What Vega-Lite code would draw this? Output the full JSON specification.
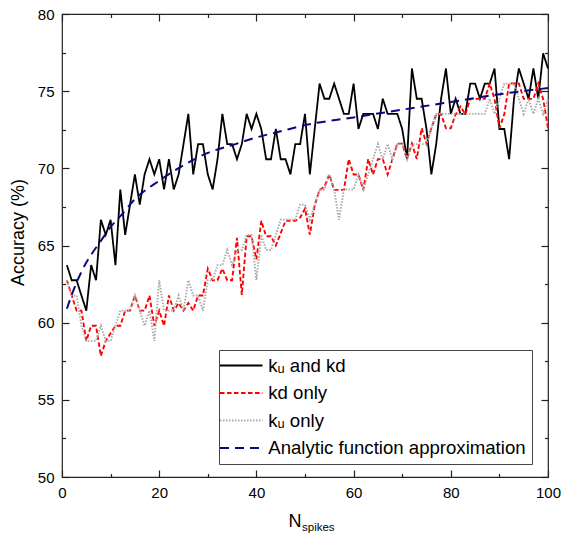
{
  "$schema": "https://vega.github.io/schema/vega-lite/v6.json",
  "width": 486,
  "height": 463,
  "autosize": {"type": "none"},
  "padding": {"left": 62, "top": 14, "right": 15, "bottom": 57},
  "background": "white",
  "datasets": {
    "main": [
      {"N":1,"both":63.73,"kd":62.75,"ku":62.75},
      {"N":2,"both":62.75,"kd":61.76,"ku":61.76},
      {"N":3,"both":62.75,"kd":60.78,"ku":61.76},
      {"N":4,"both":61.76,"kd":60.78,"ku":59.80},
      {"N":5,"both":60.78,"kd":58.82,"ku":58.82},
      {"N":6,"both":63.73,"kd":59.80,"ku":58.82},
      {"N":7,"both":62.75,"kd":59.80,"ku":58.82},
      {"N":8,"both":66.67,"kd":57.84,"ku":59.80},
      {"N":9,"both":65.69,"kd":58.82,"ku":58.82},
      {"N":10,"both":66.67,"kd":59.31,"ku":58.82},
      {"N":11,"both":63.73,"kd":59.80,"ku":59.80},
      {"N":12,"both":68.63,"kd":59.80,"ku":60.78},
      {"N":13,"both":65.69,"kd":60.78,"ku":60.78},
      {"N":14,"both":67.65,"kd":60.78,"ku":60.78},
      {"N":15,"both":69.61,"kd":61.76,"ku":61.76},
      {"N":16,"both":67.65,"kd":60.78,"ku":60.78},
      {"N":17,"both":69.61,"kd":60.78,"ku":59.80},
      {"N":18,"both":70.59,"kd":61.76,"ku":60.78},
      {"N":19,"both":69.61,"kd":59.80,"ku":58.82},
      {"N":20,"both":70.59,"kd":60.78,"ku":62.75},
      {"N":21,"both":68.63,"kd":59.80,"ku":60.78},
      {"N":22,"both":70.59,"kd":61.76,"ku":60.78},
      {"N":23,"both":68.63,"kd":60.78,"ku":60.78},
      {"N":24,"both":69.61,"kd":61.27,"ku":61.76},
      {"N":25,"both":71.57,"kd":60.78,"ku":60.78},
      {"N":26,"both":73.53,"kd":61.27,"ku":62.75},
      {"N":27,"both":69.61,"kd":60.78,"ku":61.76},
      {"N":28,"both":71.57,"kd":61.76,"ku":61.76},
      {"N":29,"both":71.57,"kd":61.76,"ku":60.78},
      {"N":30,"both":69.61,"kd":63.50,"ku":62.75},
      {"N":31,"both":68.63,"kd":62.75,"ku":62.75},
      {"N":32,"both":70.59,"kd":62.75,"ku":63.73},
      {"N":33,"both":73.53,"kd":63.50,"ku":63.73},
      {"N":34,"both":71.57,"kd":62.75,"ku":64.71},
      {"N":35,"both":71.57,"kd":62.75,"ku":63.73},
      {"N":36,"both":70.59,"kd":65.50,"ku":64.71},
      {"N":37,"both":71.57,"kd":61.80,"ku":64.71},
      {"N":38,"both":73.53,"kd":65.60,"ku":65.69},
      {"N":39,"both":72.55,"kd":65.60,"ku":65.69},
      {"N":40,"both":73.53,"kd":64.10,"ku":62.75},
      {"N":41,"both":72.55,"kd":66.60,"ku":65.69},
      {"N":42,"both":70.59,"kd":65.60,"ku":64.71},
      {"N":43,"both":70.59,"kd":65.60,"ku":64.71},
      {"N":44,"both":72.55,"kd":65.00,"ku":65.69},
      {"N":45,"both":70.59,"kd":65.80,"ku":66.67},
      {"N":46,"both":70.59,"kd":66.60,"ku":66.67},
      {"N":47,"both":69.61,"kd":66.60,"ku":66.67},
      {"N":48,"both":71.57,"kd":66.60,"ku":66.67},
      {"N":49,"both":71.57,"kd":66.80,"ku":67.65},
      {"N":50,"both":73.53,"kd":67.40,"ku":67.65},
      {"N":51,"both":69.61,"kd":65.70,"ku":66.67},
      {"N":52,"both":72.55,"kd":67.60,"ku":67.65},
      {"N":53,"both":75.49,"kd":68.60,"ku":68.63},
      {"N":54,"both":74.51,"kd":68.80,"ku":68.63},
      {"N":55,"both":74.51,"kd":69.60,"ku":69.61},
      {"N":56,"both":75.49,"kd":68.60,"ku":68.63},
      {"N":57,"both":74.51,"kd":68.60,"ku":66.67},
      {"N":58,"both":73.53,"kd":68.60,"ku":68.63},
      {"N":59,"both":73.53,"kd":70.60,"ku":68.63},
      {"N":60,"both":75.49,"kd":69.60,"ku":68.63},
      {"N":61,"both":72.55,"kd":69.60,"ku":69.61},
      {"N":62,"both":73.53,"kd":68.60,"ku":68.63},
      {"N":63,"both":73.53,"kd":70.60,"ku":69.61},
      {"N":64,"both":73.53,"kd":69.60,"ku":70.59},
      {"N":65,"both":72.55,"kd":70.60,"ku":71.57},
      {"N":66,"both":74.51,"kd":70.60,"ku":70.59},
      {"N":67,"both":73.53,"kd":69.60,"ku":71.57},
      {"N":68,"both":73.53,"kd":70.60,"ku":70.59},
      {"N":69,"both":73.53,"kd":71.60,"ku":71.57},
      {"N":70,"both":72.55,"kd":71.60,"ku":71.57},
      {"N":71,"both":70.59,"kd":70.60,"ku":70.59},
      {"N":72,"both":76.47,"kd":71.60,"ku":71.57},
      {"N":73,"both":74.51,"kd":70.60,"ku":71.57},
      {"N":74,"both":74.51,"kd":72.60,"ku":71.57},
      {"N":75,"both":72.55,"kd":71.60,"ku":71.57},
      {"N":76,"both":69.61,"kd":72.60,"ku":72.55},
      {"N":77,"both":71.57,"kd":73.50,"ku":73.53},
      {"N":78,"both":74.51,"kd":73.50,"ku":73.53},
      {"N":79,"both":76.47,"kd":72.60,"ku":73.53},
      {"N":80,"both":73.53,"kd":72.60,"ku":73.53},
      {"N":81,"both":74.51,"kd":73.50,"ku":73.53},
      {"N":82,"both":73.53,"kd":74.00,"ku":73.53},
      {"N":83,"both":73.53,"kd":73.50,"ku":73.53},
      {"N":84,"both":75.49,"kd":74.50,"ku":73.53},
      {"N":85,"both":75.49,"kd":74.50,"ku":73.53},
      {"N":86,"both":74.51,"kd":74.50,"ku":73.53},
      {"N":87,"both":75.49,"kd":74.50,"ku":73.53},
      {"N":88,"both":75.49,"kd":75.50,"ku":74.51},
      {"N":89,"both":76.47,"kd":74.50,"ku":73.53},
      {"N":90,"both":72.55,"kd":72.60,"ku":74.51},
      {"N":91,"both":72.55,"kd":73.50,"ku":75.49},
      {"N":92,"both":70.59,"kd":75.50,"ku":75.49},
      {"N":93,"both":74.51,"kd":75.50,"ku":75.49},
      {"N":94,"both":76.47,"kd":75.50,"ku":74.51},
      {"N":95,"both":75.49,"kd":74.50,"ku":73.53},
      {"N":96,"both":74.51,"kd":74.50,"ku":74.51},
      {"N":97,"both":76.47,"kd":74.50,"ku":73.53},
      {"N":98,"both":74.51,"kd":75.50,"ku":74.51},
      {"N":99,"both":77.45,"kd":74.50,"ku":73.53},
      {"N":100,"both":76.47,"kd":72.60,"ku":74.51}
    ],
    "fit": [
      {"N":1,"acc":60.9,"series":"fit"},
      {"N":2,"acc":61.8,"series":"fit"},
      {"N":3,"acc":62.6,"series":"fit"},
      {"N":4,"acc":63.3,"series":"fit"},
      {"N":5,"acc":63.9,"series":"fit"},
      {"N":6,"acc":64.4,"series":"fit"},
      {"N":8,"acc":65.3,"series":"fit"},
      {"N":10,"acc":66.2,"series":"fit"},
      {"N":12,"acc":66.9,"series":"fit"},
      {"N":15,"acc":68.0,"series":"fit"},
      {"N":20,"acc":69.2,"series":"fit"},
      {"N":25,"acc":70.2,"series":"fit"},
      {"N":30,"acc":71.0,"series":"fit"},
      {"N":35,"acc":71.5,"series":"fit"},
      {"N":40,"acc":72.0,"series":"fit"},
      {"N":45,"acc":72.4,"series":"fit"},
      {"N":50,"acc":72.8,"series":"fit"},
      {"N":60,"acc":73.3,"series":"fit"},
      {"N":70,"acc":73.8,"series":"fit"},
      {"N":80,"acc":74.3,"series":"fit"},
      {"N":90,"acc":74.8,"series":"fit"},
      {"N":100,"acc":75.2,"series":"fit"}
    ]
  },
  "config": {
    "font": "Liberation Sans",
    "view": {"stroke": "#222222", "strokeWidth": 1.2},
    "axis": {
      "grid": false,
      "domain": false,
      "labelFont": "Liberation Sans",
      "labelFontSize": 15,
      "labelColor": "#000000",
      "labelFlush": false,
      "tickColor": "#222222",
      "tickWidth": 1.2,
      "titleFont": "Liberation Sans",
      "titleFontWeight": "normal",
      "titleColor": "#000000",
      "titleFontSize": 18
    }
  },
  "encoding": {
    "color": {
      "field": "series", "type": "nominal",
      "scale": {"domain": ["both", "kd", "ku", "fit"], "range": ["#000000", "#ff0000", "#a9a9a9", "#0a0a80"]},
      "legend": {
        "title": null, "orient": "none", "legendX": 157, "legendY": 336, "direction": "vertical",
        "labelExpr": "datum.label == 'both' ? 'k\u1d64 and kd' : datum.label == 'kd' ? 'kd only' : datum.label == 'ku' ? 'k\u1d64 only' : 'Analytic function approximation'",
        "labelFont": "Liberation Sans", "labelFontSize": 18.6, "labelColor": "#000000", "labelLimit": 400,
        "symbolType": "M-2.5,0H2.5", "symbolSize": 289, "symbolOffset": 6.75, "labelOffset": 17.5,
        "padding": 6, "rowPadding": 7.5, "strokeColor": "#444444", "fillColor": "#ffffff"
      }
    },
    "strokeDash": {
      "field": "series", "type": "nominal",
      "scale": {"domain": ["both", "kd", "ku", "fit"], "range": [[1, 0], [4.5, 2.5], [1.5, 1.5], [9, 6]]},
      "legend": {
        "title": null, "orient": "none", "legendX": 157, "legendY": 336, "direction": "vertical",
        "labelExpr": "datum.label == 'both' ? 'k\u1d64 and kd' : datum.label == 'kd' ? 'kd only' : datum.label == 'ku' ? 'k\u1d64 only' : 'Analytic function approximation'",
        "labelFont": "Liberation Sans", "labelFontSize": 18.6, "labelColor": "#000000", "labelLimit": 400,
        "symbolType": "M-2.5,0H2.5", "symbolSize": 289, "symbolOffset": 6.75, "labelOffset": 17.5,
        "padding": 6, "rowPadding": 7.5, "strokeColor": "#444444", "fillColor": "#ffffff"
      }
    },
    "strokeWidth": {
      "field": "series", "type": "nominal",
      "scale": {"domain": ["both", "kd", "ku", "fit"], "range": [1.8, 2, 1.1, 2]},
      "legend": {
        "title": null, "orient": "none", "legendX": 157, "legendY": 336, "direction": "vertical",
        "labelExpr": "datum.label == 'both' ? 'k\u1d64 and kd' : datum.label == 'kd' ? 'kd only' : datum.label == 'ku' ? 'k\u1d64 only' : 'Analytic function approximation'",
        "labelFont": "Liberation Sans", "labelFontSize": 18.6, "labelColor": "#000000", "labelLimit": 400,
        "symbolType": "M-2.5,0H2.5", "symbolSize": 289, "symbolOffset": 6.75, "labelOffset": 17.5,
        "padding": 6, "rowPadding": 7.5, "strokeColor": "#444444", "fillColor": "#ffffff"
      }
    }
  },
  "layer": [
    {
      "data": {"name": "main"},
      "transform": [{"fold": ["both", "kd", "ku"], "as": ["series", "acc"]}, {"filter": "datum.series === 'both'"}],
      "mark": {"type": "line"},
      "encoding": {
        "x": {"field": "N", "type": "quantitative", "scale": {"domain": [0, 100], "nice": false, "zero": false},
          "axis": {"orient": "bottom", "values": [0, 20, 40, 60, 80, 100], "ticks": false, "labelPadding": 8,
            "title": "N", "titleFontSize": 18, "titleX": 239, "titleY": 49, "titleAlign": "right", "titleBaseline": "alphabetic", "titleAngle": 0}},
        "y": {"field": "acc", "type": "quantitative", "scale": {"domain": [50, 80], "nice": false, "zero": false},
          "axis": {"orient": "left", "values": [50, 55, 60, 65, 70, 75, 80], "ticks": false, "labelPadding": 8,
            "title": "Accuracy (%)", "titleFontSize": 18, "titleAngle": 270, "titleX": -44, "titleY": 218, "titleAlign": "center", "titleBaseline": "middle"}}
      }
    },
    {
      "data": {"name": "main"},
      "transform": [{"fold": ["both", "kd", "ku"], "as": ["series", "acc"]}, {"filter": "datum.series === 'kd'"}],
      "mark": {"type": "line"},
      "encoding": {
        "x": {"field": "N", "type": "quantitative",
          "axis": {"orient": "bottom", "values": [0, 20, 40, 60, 80, 100], "labels": false, "tickSize": -7,
            "title": "spikes", "titleFontSize": 11.5, "titleX": 239.5, "titleY": 53, "titleAlign": "left", "titleBaseline": "alphabetic", "titleAngle": 0}},
        "y": {"field": "acc", "type": "quantitative",
          "axis": {"orient": "left", "values": [50, 55, 60, 65, 70, 75, 80], "labels": false, "tickSize": -7, "title": null}}
      }
    },
    {
      "data": {"name": "main"},
      "transform": [{"fold": ["both", "kd", "ku"], "as": ["series", "acc"]}, {"filter": "datum.series === 'ku'"}],
      "mark": {"type": "line"},
      "encoding": {
        "x": {"field": "N", "type": "quantitative",
          "axis": {"orient": "bottom", "values": [10, 30, 50, 70, 90], "labels": false, "tickSize": -3.5, "title": null}},
        "y": {"field": "acc", "type": "quantitative",
          "axis": {"orient": "left", "values": [52.5, 57.5, 62.5, 67.5, 72.5, 77.5], "labels": false, "tickSize": -3.5, "title": null}}
      }
    },
    {
      "data": {"name": "fit"},
      "mark": {"type": "line", "interpolate": "monotone"},
      "encoding": {
        "x": {"field": "N", "type": "quantitative",
          "axis": {"orient": "top", "values": [0, 20, 40, 60, 80, 100], "labels": false, "tickSize": -7, "title": null}},
        "y": {"field": "acc", "type": "quantitative",
          "axis": {"orient": "right", "values": [50, 55, 60, 65, 70, 75, 80], "labels": false, "tickSize": -7, "title": null}}
      }
    },
    {
      "data": {"name": "fit"},
      "mark": {"type": "line", "interpolate": "monotone", "strokeOpacity": 0},
      "encoding": {
        "x": {"field": "N", "type": "quantitative",
          "axis": {"orient": "top", "values": [10, 30, 50, 70, 90], "labels": false, "tickSize": -3.5, "title": null}},
        "y": {"field": "acc", "type": "quantitative",
          "axis": {"orient": "right", "values": [52.5, 57.5, 62.5, 67.5, 72.5, 77.5], "labels": false, "tickSize": -3.5, "title": null}}
      }
    }
  ],
  "resolve": {"axis": {"x": "independent", "y": "independent"}}
}
